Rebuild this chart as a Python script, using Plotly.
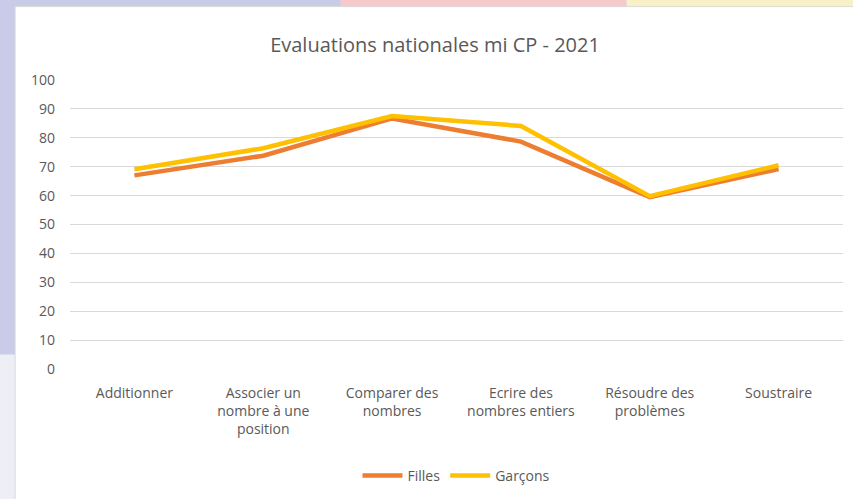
import plotly.graph_objects as go

# Evaluations nationales mi CP 2021 : scores by domain
categories = ["Additionner", "Associer un<br>nombre à une<br>position", "Comparer des<br>nombres",
              "Ecrire des<br>nombres entiers", "Résoudre des<br>problèmes", "Soustraire"]
filles = [67.0, 73.8, 86.7, 78.7, 59.5, 69.2]
garcons = [69.1, 76.4, 87.5, 84.1, 59.8, 70.5]
y_ticks = [0, 10, 20, 30, 40, 50, 60, 70, 80, 90, 100]

font_name = "Open Sans"
grey = "#595959"

fig = go.Figure()
fig.add_trace(go.Scatter(x=categories, y=filles, name="Filles", mode="lines",
                         line=dict(color="#ED7D31", width=4.5)))
fig.add_trace(go.Scatter(x=categories, y=garcons, name="Garçons", mode="lines",
                         line=dict(color="#FFC000", width=4.5)))

fig.update_layout(
    width=853, height=499,
    margin=dict(l=70, r=10, t=80, b=130, autoexpand=False),
    paper_bgcolor="#ffffff",
    plot_bgcolor="rgba(0,0,0,0)",
    font=dict(family=font_name, color=grey, size=14),
    title=dict(text="Evaluations nationales mi CP - 2021", x=0.51, xanchor="center",
               y=0.91, yanchor="middle", font=dict(size=20, color=grey)),
    showlegend=True,
    legend=dict(orientation="h", x=0.5, xanchor="center", y=-0.37, yanchor="middle",
                font=dict(size=14, color=grey), itemwidth=40),
    # blurred slide behind the chart, then the white chart area
    shapes=[
        dict(type="rect", xref="paper", yref="paper", x0=-0.1, x1=1.02, y0=-0.5, y1=1.3,
             fillcolor="#c9cce9", line=dict(width=0), layer="below"),
        dict(type="rect", xref="paper", yref="paper", x0=-0.1, x1=1.02, y0=-0.5, y1=0.05,
             fillcolor="#eeeef6", line=dict(width=0), layer="below"),
        dict(type="rect", xref="paper", yref="paper", x0=0.35, x1=0.72, y0=1.22, y1=1.3,
             fillcolor="#f6c9cc", line=dict(width=0), layer="below"),
        dict(type="rect", xref="paper", yref="paper", x0=0.72, x1=1.02, y0=1.22, y1=1.3,
             fillcolor="#f8f1c8", line=dict(width=0), layer="below"),
        dict(type="rect", xref="paper", yref="paper", x0=-0.071, x1=1.02, y0=-0.5, y1=1.254,
             fillcolor="#ffffff", line=dict(color="#d9d9d9", width=1), layer="below"),
    ],
)

fig.update_xaxes(type="category", range=[-0.5, 5.5], showgrid=False, showline=False,
                 zeroline=False, ticks="", tickfont=dict(size=14, color=grey),
                 ticklabelstandoff=14, automargin=False)
fig.update_yaxes(range=[0, 100], tickvals=y_ticks, showgrid=True, gridcolor="#d9d9d9",
                 gridwidth=1, zeroline=False, showline=False, ticks="",
                 tickfont=dict(size=14, color=grey), ticklabelstandoff=14, automargin=False)

fig.write_html("out.html", config={"displayModeBar": False},
               post_script="document.body.style.margin='0';")
